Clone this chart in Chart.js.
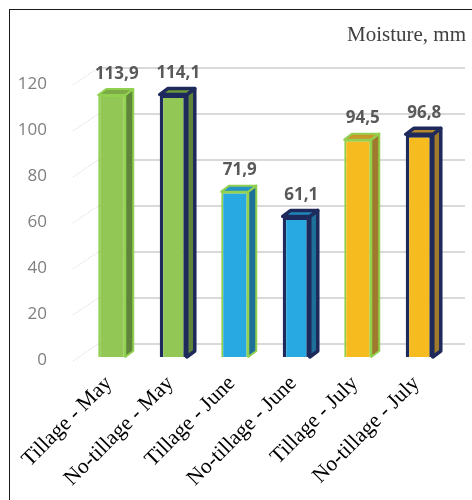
<!DOCTYPE html>
<html>
<head>
<meta charset="utf-8">
<script src="https://cdn.jsdelivr.net/npm/chart.js@4.4.1/dist/chart.umd.min.js"></script>
<style>
    html, body { margin: 0; padding: 0; background: #fff; }
    #wrap { position: relative; width: 472px; height: 500px; overflow: hidden; }
    #frame {
        position: absolute; left: 9px; top: 9px; width: 600px; height: 600px;
        border: 1.5px solid #1a1a1a; pointer-events: none;
    }
</style>
</head>
<body>
<div id="wrap">
    <canvas id="myChart" width="472" height="500"></canvas>
    <div id="frame"></div>
</div>
<script>
const categories = ['Tillage - May', 'No-tillage - May', 'Tillage - June', 'No-tillage - June', 'Tillage - July', 'No-tillage - July'];
const moisture = [113.9, 114.1, 71.9, 61.1, 94.5, 96.8];
const yMax = 120;
const yStep = 20;
const unitLabel = 'Moisture, mm';

// colours: front, side, top, border
const frontColors = ['#92C755', '#92C755', '#29A9E1', '#29A9E1', '#F6BC1F', '#F6BC1F'];
const sideColors = ['#5E8539', '#5E8539', '#1F7099', '#1F7099', '#A07A2C', '#A07A2C'];
const topColors = ['#7BAA46', '#6A9A3A', '#2392C6', '#1F86B8', '#C8982A', '#B68A2A'];
const borderColors = ['#92D050', '#1F2A5C', '#92D050', '#1F2A5C', '#92D050', '#1F2A5C'];
const borderWidths = [2, 3.5, 2, 3.5, 2, 3.5];

const depth = { dx: 8, dy: -6 };

const bar3d = {
    id: 'bar3d',
    beforeDatasetsDraw(chart) {
        const { ctx, chartArea, scales } = chart;
        const y = scales.y;
        ctx.save();
        for (let v = 0; v <= yMax; v += yStep) {
            const py = y.getPixelForValue(v);
            // back wall grid line
            ctx.strokeStyle = '#D9D9D9';
            ctx.lineWidth = 2;
            ctx.beginPath();
            ctx.moveTo(chartArea.left + 17, py - 13);
            ctx.lineTo(chartArea.right + 15, py - 13);
            ctx.stroke();
            // side wall
            ctx.strokeStyle = '#D6D6D6';
            ctx.lineWidth = 1;
            ctx.setLineDash([1, 1]);
            ctx.beginPath();
            ctx.moveTo(chartArea.left - 8, py + 4);
            ctx.lineTo(chartArea.left + 17, py - 13);
            ctx.stroke();
            ctx.setLineDash([]);
        }
        // side and top faces of the bars
        const meta = chart.getDatasetMeta(0);
        meta.data.forEach((bar, i) => {
            const left = bar.x - bar.width / 2;
            const right = bar.x + bar.width / 2;
            const top = bar.y;
            const base = bar.base;
            ctx.lineJoin = 'round';
            ctx.lineWidth = borderWidths[i];
            ctx.strokeStyle = borderColors[i];

            ctx.fillStyle = sideColors[i];
            ctx.beginPath();
            ctx.moveTo(right, top);
            ctx.lineTo(right + depth.dx, top + depth.dy);
            ctx.lineTo(right + depth.dx, base + depth.dy);
            ctx.lineTo(right, base);
            ctx.closePath();
            ctx.fill();
            ctx.stroke();

            ctx.fillStyle = topColors[i];
            ctx.beginPath();
            ctx.moveTo(left, top);
            ctx.lineTo(left + depth.dx, top + depth.dy);
            ctx.lineTo(right + depth.dx, top + depth.dy);
            ctx.lineTo(right, top);
            ctx.closePath();
            ctx.fill();
            ctx.stroke();
        });
        ctx.restore();
    },
    afterDatasetsDraw(chart) {
        const { ctx } = chart;
        const meta = chart.getDatasetMeta(0);
        ctx.save();
        ctx.font = 'bold 17px "Open Sans"';
        ctx.fillStyle = '#595959';
        ctx.textAlign = 'center';
        ctx.textBaseline = 'middle';
        meta.data.forEach((bar, i) => {
            const txt = moisture[i].toFixed(1).replace('.', ',');
            ctx.fillText(txt, bar.x + 5, bar.y - 21);
        });
        ctx.restore();
    },
    afterDraw(chart) {
        const { ctx } = chart;
        ctx.save();
        ctx.font = '21px "Liberation Serif"';
        ctx.fillStyle = '#404040';
        ctx.textAlign = 'right';
        ctx.textBaseline = 'middle';
        ctx.fillText(unitLabel, 466, 35);
        ctx.restore();
    },
};

const myChartCanvas = document.querySelector('#myChart');

const myChart = new Chart(myChartCanvas, {
    type: 'bar',
    data: {
        labels: categories,
        datasets: [
            {
                label: unitLabel,
                data: moisture,
                backgroundColor: frontColors,
                borderColor: borderColors,
                borderWidth: borderWidths,
                categoryPercentage: 1,
                barPercentage: 0.44,
            },
        ],
    },
    options: {
        responsive: false,
        animation: false,
        layout: {
            padding: { top: 81, right: 22, bottom: 0, left: 0 },
        },
        scales: {
            y: {
                min: 0,
                max: yMax,
                ticks: {
                    stepSize: yStep,
                    padding: 26,
                    labelOffset: 3,
                    color: '#7F7F7F',
                    font: { family: 'Open Sans', size: 17 },
                },
                grid: { display: false },
                border: { display: false },
                afterFit(scale) {
                    scale.width = 81;
                },
            },
            x: {
                ticks: {
                    minRotation: 45,
                    maxRotation: 45,
                    padding: 6,
                    labelOffset: -3,
                    color: '#000000',
                    font: { family: 'Liberation Serif', size: 21.5 },
                },
                grid: { display: false },
                border: { display: false },
                afterFit(scale) {
                    scale.height = 143;
                },
            },
        },
        plugins: {
            legend: { display: false },
            tooltip: { enabled: false },
        },
    },
    plugins: [bar3d],
});
</script>
</body>
</html>
